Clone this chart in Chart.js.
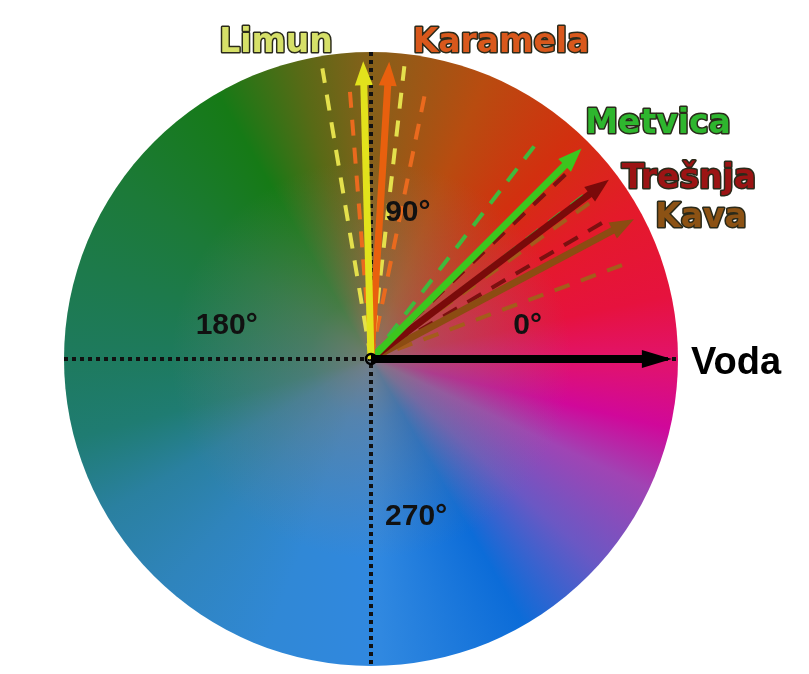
<!DOCTYPE html>
<html>
<head>
<meta charset="utf-8">
<script src="https://cdn.jsdelivr.net/npm/chart.js@4.4.1/dist/chart.umd.min.js"></script>
<style>
  html, body { margin: 0; padding: 0; background: #fff; }
  #wrap { width: 809px; height: 674px; }
</style>
</head>
<body>
<div id="wrap"><canvas id="wheel" width="809" height="674"></canvas></div>
<script>
// flavours, mean direction on the wheel (deg, 0 = east, counter clockwise)
const flavours = ['Voda', 'Limun', 'Karamela', 'Metvica', 'Trešnja', 'Kava'];
const meanAngle = [0, 91.5, 86.5, 45, 37, 28];
const arrowLength = [0.98, 0.97, 0.97, 0.97, 0.97, 0.97];
// spread of every flavour (dashed lines)
const lowAngle = [null, 83.5, 78.5, 37.5, 30.5, 20.5];
const highAngle = [null, 99.5, 94.5, 52.5, 43.5, 35.5];
const spreadLength = [null, 0.96, 0.9, 0.9, 0.9, 0.9];
const degreeLabels = ['0°', '90°', '180°', '270°'];

// styles
const arrowColor = ['#000000', '#e2e21c', '#e8600e', '#3cc61e', '#7a0a0a', '#8c4c12'];
const dashColor = ['#000000', '#e4e04c', '#ea6a1e', '#3fba3c', '#7c1010', '#a45c1c'];
const nameColor = ['#000000', '#d6e068', '#d9581c', '#2eb62e', '#9c1414', '#8c5214'];
// label anchors in pixels (x centre, baseline)
const namePos = [[736, 374], [276, 52], [501, 52], [658, 133], [689, 188], [701, 227]];
// degree label anchors in axis units
const degreePos = [[0.51, 0.08], [0.12, 0.45], [-0.47, 0.08], [0.147, -0.54]];

// colour wheel stops (deg ccw)
const wheelStops = [
    [0, '#e2136a'], [12, '#e6123e'], [30, '#e41a2a'], [48, '#d2300f'],
    [68, '#b84c10'], [90, '#86601a'], [104, '#586a16'], [120, '#167a16'],
    [145, '#1c7a38'], [180, '#1e7a5e'], [195, '#1f7c72'], [210, '#2a80a0'],
    [228, '#2f84bc'], [250, '#3088d6'], [272, '#3088e0'], [300, '#0c6cd8'],
    [318, '#6a58c4'], [335, '#a044b4'], [347, '#d0089a'], [360, '#e2136a']
];

function toXY(angle, len) {
    const a = angle * Math.PI / 180;
    return { x: len * Math.cos(a), y: len * Math.sin(a) };
}

const datasets = [];

// dotted axes
datasets.push({
    data: [{ x: -1, y: 0 }, { x: 1, y: 0 }],
    borderColor: '#111', borderWidth: 4, borderDash: [4, 4], order: 100
});
datasets.push({
    data: [{ x: 0, y: 1 }, { x: 0, y: -1 }],
    borderColor: '#111', borderWidth: 4, borderDash: [4, 4], order: 100
});

// dashed spreads
flavours.forEach((f, i) => {
    if (lowAngle[i] === null) return;
    [lowAngle[i], highAngle[i]].forEach(a => {
        datasets.push({
            data: [{ x: 0, y: 0 }, toXY(a, spreadLength[i])],
            borderColor: dashColor[i], borderWidth: 4, borderDash: [16, 12],
            order: 20 + i
        });
    });
});

// arrows
flavours.forEach((f, i) => {
    datasets.push({
        label: f,
        data: [{ x: 0, y: 0 }, toXY(meanAngle[i], arrowLength[i])],
        borderColor: arrowColor[i],
        borderWidth: i === 0 ? 8 : 7,
        arrow: true,
        headLen: i === 0 ? 30 : 24,
        headHalf: 9,
        order: 1 + i
    });
});

// colour wheel under everything
const wheelPlugin = {
    id: 'wheel',
    beforeDatasetsDraw(chart) {
        const ctx = chart.ctx;
        const xs = chart.scales.x, ys = chart.scales.y;
        const cx = xs.getPixelForValue(0), cy = ys.getPixelForValue(0);
        const r = xs.getPixelForValue(1) - cx;
        const g = ctx.createConicGradient(0, cx, cy);
        wheelStops.forEach(s => g.addColorStop((360 - s[0]) / 360, s[1]));
        ctx.save();
        ctx.beginPath();
        ctx.arc(cx, cy, r, 0, Math.PI * 2);
        ctx.fillStyle = g;
        ctx.fill();
        // greyer towards the middle
        const rg = ctx.createRadialGradient(cx, cy, 0, cx, cy, r);
        rg.addColorStop(0, 'rgba(128,124,120,0.85)');
        rg.addColorStop(0.2, 'rgba(128,126,124,0.45)');
        rg.addColorStop(0.65, 'rgba(128,128,128,0)');
        ctx.fillStyle = rg;
        ctx.fill();
        ctx.restore();
    }
};

// arrow heads, shaft is clipped under the head
const arrowPlugin = {
    id: 'arrows',
    beforeDatasetDraw(chart, args) {
        const ds = chart.data.datasets[args.index];
        if (!ds.arrow) return;
        const pts = args.meta.data;
        const a = pts[0], b = pts[pts.length - 1];
        const d = Math.hypot(b.x - a.x, b.y - a.y);
        const ux = (b.x - a.x) / d, uy = (b.y - a.y) / d;
        const w = ds.borderWidth + 4;
        const bx = b.x - ux * (ds.headLen - 2), by = b.y - uy * (ds.headLen - 2);
        const ctx = chart.ctx;
        ctx.save();
        ctx.beginPath();
        ctx.rect(0, 0, chart.width, chart.height);
        ctx.moveTo(bx - uy * w, by + ux * w);
        ctx.lineTo(b.x + ux * 10 - uy * w, b.y + uy * 10 + ux * w);
        ctx.lineTo(b.x + ux * 10 + uy * w, b.y + uy * 10 - ux * w);
        ctx.lineTo(bx + uy * w, by - ux * w);
        ctx.closePath();
        ctx.clip('evenodd');
    },
    afterDatasetDraw(chart, args) {
        const ds = chart.data.datasets[args.index];
        if (!ds.arrow) return;
        const ctx = chart.ctx;
        ctx.restore();
        const pts = args.meta.data;
        const a = pts[0], b = pts[pts.length - 1];
        const d = Math.hypot(b.x - a.x, b.y - a.y);
        const ux = (b.x - a.x) / d, uy = (b.y - a.y) / d;
        const bx = b.x - ux * ds.headLen, by = b.y - uy * ds.headLen;
        const h = ds.headHalf;
        ctx.save();
        ctx.beginPath();
        ctx.moveTo(b.x, b.y);
        ctx.lineTo(bx - uy * h, by + ux * h);
        ctx.lineTo(bx + uy * h, by - ux * h);
        ctx.closePath();
        ctx.fillStyle = ds.borderColor;
        ctx.fill();
        ctx.restore();
    }
};

// texts
const labelPlugin = {
    id: 'labels',
    afterDraw(chart) {
        const ctx = chart.ctx;
        const xs = chart.scales.x, ys = chart.scales.y;
        const cx = xs.getPixelForValue(0), cy = ys.getPixelForValue(0);
        ctx.save();
        // little ring at the origin
        ctx.beginPath();
        ctx.arc(cx, cy, 5, 0, Math.PI * 2);
        ctx.lineWidth = 2.5;
        ctx.strokeStyle = '#000';
        ctx.stroke();

        ctx.textAlign = 'center';
        ctx.textBaseline = 'alphabetic';
        ctx.fillStyle = '#111';
        ctx.font = 'bold 30px "Liberation Sans", Arial, sans-serif';
        degreeLabels.forEach((t, i) => {
            const p = degreePos[i];
            ctx.fillText(t, xs.getPixelForValue(p[0]), ys.getPixelForValue(p[1]));
        });

        flavours.forEach((f, i) => {
            const p = namePos[i];
            if (i === 0) {
                ctx.font = 'bold 38px "Liberation Sans", Arial, sans-serif';
                ctx.fillStyle = '#000';
                ctx.fillText(f, p[0], p[1]);
                return;
            }
            ctx.font = 'bold 33px "DejaVu Sans", sans-serif';
            ctx.lineJoin = 'round';
            ctx.lineWidth = 3;
            ctx.strokeStyle = '#2a2a1a';
            ctx.strokeText(f, p[0], p[1]);
            ctx.fillStyle = nameColor[i];
            ctx.fillText(f, p[0], p[1]);
        });
        ctx.restore();
    }
};

new Chart(document.getElementById('wheel'), {
    type: 'scatter',
    data: { datasets: datasets },
    options: {
        responsive: false,
        animation: false,
        showLine: true,
        layout: { padding: { left: 64, right: 131, top: 52, bottom: 8 } },
        elements: {
            point: { radius: 0, hoverRadius: 0 },
            line: { borderCapStyle: 'butt', tension: 0 }
        },
        scales: {
            x: { type: 'linear', min: -1, max: 1, display: false },
            y: { type: 'linear', min: -1, max: 1, display: false }
        },
        plugins: {
            legend: { display: false },
            tooltip: { enabled: false }
        }
    },
    plugins: [wheelPlugin, arrowPlugin, labelPlugin]
});
</script>
</body>
</html>
